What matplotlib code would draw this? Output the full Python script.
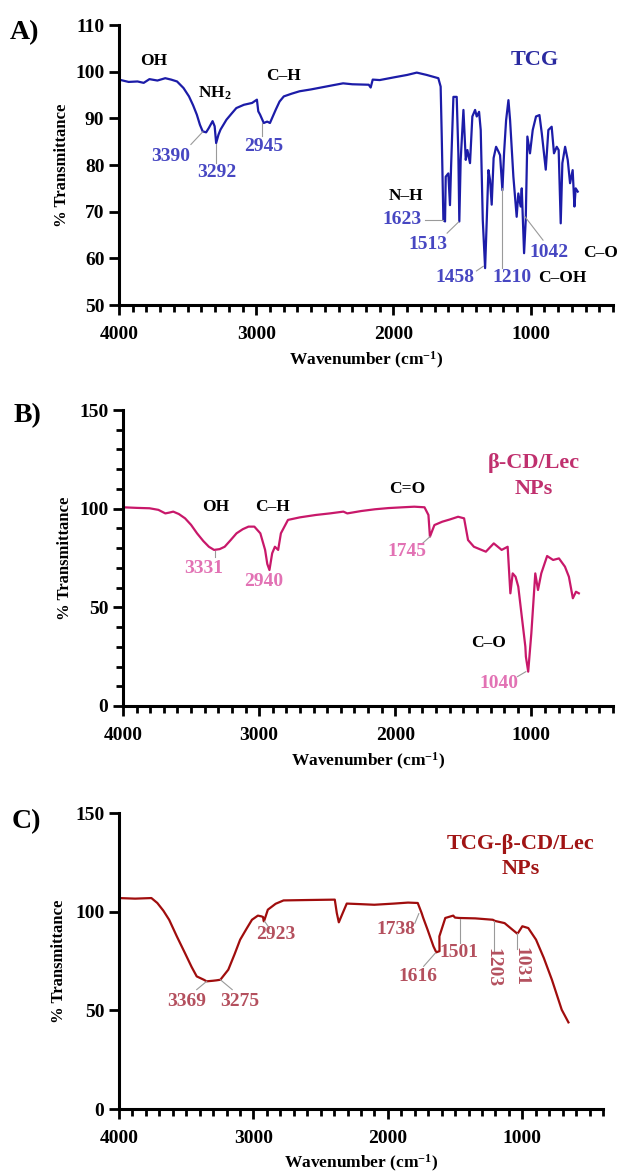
import matplotlib
matplotlib.use("Agg")
import matplotlib.pyplot as plt
from matplotlib.ticker import MultipleLocator

plt.rcParams['font.family'] = ['Liberation Serif', 'DejaVu Serif']
plt.rcParams['font.weight'] = 'bold'
plt.rcParams['axes.labelweight'] = 'bold'
plt.rcParams['mathtext.fontset'] = 'custom'
plt.rcParams['mathtext.rm'] = 'Liberation Serif:bold'
plt.rcParams['mathtext.bf'] = 'Liberation Serif:bold'
plt.rcParams['mathtext.default'] = 'rm'

# --- FTIR spectra (wavenumber in cm-1, % transmittance) ---
wn_tcg = [4000, 3930, 3865, 3820, 3778, 3720, 3663, 3620, 3577, 3530, 3490, 3460, 3433,
          3410, 3390, 3365, 3346, 3318, 3303, 3292, 3275, 3260, 3217, 3180, 3145, 3090,
          3030, 2995, 2985, 2972, 2945, 2920, 2900, 2857, 2830, 2799, 2740, 2684, 2600,
          2511, 2440, 2367, 2300, 2180, 2166, 2151, 2100, 1993, 1900, 1830, 1758, 1673,
          1656, 1648, 1636, 1624, 1619, 1600, 1588, 1580, 1563, 1539, 1527, 1520, 1510,
          1490, 1473, 1461, 1442, 1425, 1405, 1393, 1376, 1364, 1349, 1332, 1320, 1308,
          1296, 1284, 1270, 1252, 1235, 1223, 1206, 1194, 1179, 1162, 1150, 1126, 1102,
          1090, 1073, 1065, 1048, 1036, 1024, 1005, 985, 961, 936, 919, 890, 871, 847,
          830, 810, 796, 781, 769, 749, 730, 713, 694, 681, 672, 657]
t_tcg = [98.3, 97.8, 97.9, 97.6, 98.4, 98.1, 98.6, 98.3, 97.9, 96.5, 94.7, 92.8, 90.8,
         88.6, 87.2, 87.0, 87.9, 89.4, 88.3, 84.7, 86.5, 87.6, 89.7, 91.0, 92.2, 92.9,
         93.3, 94.0, 91.5, 90.8, 89.0, 89.3, 89.0, 91.9, 93.6, 94.7, 95.3, 95.8, 96.2,
         96.7, 97.1, 97.5, 97.3, 97.2, 96.6, 98.3, 98.2, 98.8, 99.3, 99.8, 99.3, 98.6,
         96.8, 86.1, 68.2, 67.9, 77.5, 78.2, 71.4, 79.6, 94.6, 94.6, 82.5, 67.9, 81.1,
         91.8, 81.1, 83.2, 80.4, 90.4, 91.8, 90.4, 91.4, 87.5, 68.2, 57.9, 68.2, 78.9,
         76.8, 71.5, 81.5, 83.9, 82.9, 82.1, 74.6, 82.5, 89.6, 93.9, 89.6, 77.5, 68.9,
         73.9, 71.1, 75.0, 61.1, 68.2, 86.1, 82.5, 87.5, 90.4, 90.7, 86.8, 79.0, 87.5, 88.2,
         82.5, 83.9, 83.2, 67.5, 80.4, 83.9, 81.1, 76.1, 78.9, 71.1, 75.0, 74.3]

wn_cdlec = [4000, 3900, 3805, 3740, 3689, 3660, 3631, 3590, 3544, 3500, 3456, 3410, 3369,
            3331, 3290, 3253, 3210, 3166, 3120, 3078, 3035, 2991, 2956, 2940, 2924, 2904,
            2884, 2860, 2840, 2788, 2700, 2584, 2480, 2381, 2352, 2250, 2148, 2050, 1945,
            1860, 1785, 1756, 1745, 1712, 1654, 1600, 1538, 1494, 1465, 1422, 1380, 1334,
            1276, 1218, 1174, 1154, 1137, 1116, 1096, 1073, 1044, 1040, 1023, 1000, 971,
            951, 927, 884, 840, 797, 753, 724, 695, 672, 651]
t_cdlec = [100.7, 100.4, 100.2, 99.4, 97.6, 98.0, 98.5, 97.3, 95.1, 91.8, 87.5, 83.6, 80.7,
           79.1, 79.5, 80.7, 84.0, 87.5, 89.6, 90.9, 90.9, 87.5, 79.1, 72.0, 68.9, 77.4,
           80.7, 79.1, 87.5, 94.3, 95.6, 96.8, 97.6, 98.5, 97.6, 98.8, 99.7, 100.3, 100.7,
           101.0, 100.7, 96.8, 85.8, 91.7, 93.4, 94.5, 95.9, 95.1, 84.1, 80.7, 79.5, 78.2,
           82.4, 79.1, 80.7, 57.1, 67.2, 65.5, 60.5, 47.0, 30.1, 25.0, 17.4, 36.8, 67.2,
           58.8, 67.2, 76.0, 74.0, 74.8, 70.6, 65.5, 54.6, 57.9, 57.1]

wn_tcg_np = [4000, 3880, 3759, 3715, 3670, 3627, 3570, 3510, 3460, 3422, 3369, 3348, 3300,
             3275, 3246, 3187, 3140, 3099, 3050, 3011, 2967, 2940, 2929, 2923, 2917, 2893,
             2835, 2776, 2600, 2395, 2380, 2365, 2336, 2306, 2200, 2101, 1954, 1850, 1778,
             1749, 1738, 1705, 1661, 1640, 1616, 1617, 1573, 1514, 1501, 1470, 1350, 1220,
             1203, 1132, 1074, 1038, 1031, 1000, 956, 898, 840, 780, 707, 657]
t_tcg_np = [106.9, 106.6, 106.9, 104.4, 100.5, 95.9, 87.5, 79.1, 72.0, 67.2, 65.5, 64.7, 65.0,
            65.2, 65.5, 70.6, 78.5, 85.8, 91.5, 95.9, 98.0, 97.6, 97.3, 95.1, 96.0, 101.0,
            104.0, 105.7, 105.9, 106.1, 99.3, 94.6, 99.3, 104.1, 103.8, 103.5, 104.1, 104.6,
            104.4, 99.3, 97.0, 90.9, 82.4, 79.4, 80.0, 87.5, 96.8, 98.0, 97.0, 96.8, 96.6,
            95.9, 95.3, 94.2, 90.9, 88.9, 89.3, 92.6, 91.7, 85.8, 76.5, 65.5, 50.3, 43.9]

# --- annotation text ---
groups_a = ['OH', 'NH$_2$', 'C\u2013H', 'N\u2013H', 'C\u2013OH', 'C\u2013O']
peaks_a = ['3390', '3292', '2945', '1623', '1513', '1458', '1210', '1042']
groups_b = ['OH', 'C\u2013H', 'C=O', 'C\u2013O']
peaks_b = ['3331', '2940', '1745', '1040']
peaks_c = ['3369', '3275', '2923', '1738', '1616', '1501', '1203', '1031']

blue, blue_lbl = '#1c1ca8', '#4747c2'
pink, pink_lbl = '#c8186a', '#e272b4'
red, red_lbl = '#a00d0d', '#b4505e'
grey = '#9a9a9a'

fig = plt.figure(figsize=(6.18, 11.74), dpi=100)
W, H = 618, 1174


def make_axes(left, right, top, bottom):
    return fig.add_axes([left / W, 1 - bottom / H, (right - left) / W, (bottom - top) / H])


def style(ax, ylim, ystep, yminor=None, xpad=8):
    ax.set_xlim(4000, 400)
    ax.set_ylim(*ylim)
    ax.xaxis.set_major_locator(MultipleLocator(1000))
    ax.xaxis.set_minor_locator(MultipleLocator(100))
    ax.yaxis.set_major_locator(MultipleLocator(ystep))
    if yminor:
        ax.yaxis.set_minor_locator(MultipleLocator(yminor))
    else:
        ax.yaxis.set_minor_locator(plt.NullLocator())
    for s in ['top', 'right']:
        ax.spines[s].set_visible(False)
    for s in ['left', 'bottom']:
        ax.spines[s].set_linewidth(2.2)
    ax.tick_params(which='major', length=7, width=2, labelsize=14, pad=3.5)
    ax.tick_params(axis='x', which='major', pad=8)
    ax.tick_params(which='minor', length=4.8, width=2)
    ax.set_xlabel('Wavenumber (cm$^{-1}$)', fontsize=12.5, labelpad=xpad)
    ax.set_ylabel('% Transmittance', fontsize=12)


def pointer(ax, x0, y0, x1, y1):
    ax.plot([x0, x1], [y0, y1], color=grey, lw=0.8, clip_on=False)


# A) TCG
ax = make_axes(119, 613, 25, 305)
ax.plot(wn_tcg, t_tcg, color=blue, lw=1.6)
style(ax, (50, 110), 10, xpad=5)
ax.yaxis.set_label_coords(-0.100, 0.5)
fig.text(10 / W, 1 - 33 / H, 'A)', fontsize=20, va='center')
ax.text(970, 102.5, 'TCG', color='#2a2aa0', fontsize=16, ha='center', va='center')
for g, (x, y, ha) in zip(groups_a, [(3750, 102.2, 'center'), (3303, 95.4, 'center'),
                                    (2800, 99.0, 'center'), (1907, 73.3, 'center'),
                                    (946, 55.8, 'left'), (620, 61.2, 'left')]):
    ax.text(x, y, g, fontsize=12.5, ha=ha, va='center', clip_on=False)
for p, (x, y) in zip(peaks_a, [(3620, 81.9), (3289, 78.3), (2949, 84.0), (1935, 68.4),
                               (1748, 62.9), (1551, 55.8), (1136, 55.8), (870, 61.2)]):
    ax.text(x, y, p, color=blue_lbl, fontsize=14, ha='center', va='center')
pointer(ax, 3476, 84.4, 3390, 87.1)
pointer(ax, 3295, 80.5, 3295, 84.4)
pointer(ax, 2955, 86.3, 2955, 89.0)
pointer(ax, 1770, 68.2, 1638, 68.2)
pointer(ax, 1609, 65.4, 1525, 67.8)
pointer(ax, 1395, 57.3, 1345, 58.3)
pointer(ax, 1207, 57.9, 1207, 75.0)
pointer(ax, 910, 63.9, 1041, 68.9)

# B) beta-CD/Lec NPs
ax = make_axes(123, 613, 410, 706)
ax.plot(wn_cdlec, t_cdlec, color=pink, lw=1.6)
style(ax, (0, 150), 50, 10, xpad=5)
ax.yaxis.set_label_coords(-0.102, 0.5)
fig.text(14 / W, 1 - 416 / H, 'B)', fontsize=20, va='center')
ax.text(980, 116.5, '\u03b2-CD/Lec\nNPs', color='#c0306e', fontsize=16, ha='center',
        va='center', linespacing=1.35)
for g, (x, y) in zip(groups_b, [(3317, 101.0), (2904, 101.0), (1910, 109.8), (1314, 32.1)]):
    ax.text(x, y, g, fontsize=12.5, ha='center', va='center')
for p, (x, y) in zip(peaks_b, [(3404, 69.8), (2968, 63.0), (1916, 78.2), (1238, 11.5)]):
    ax.text(x, y, p, color=pink_lbl, fontsize=14, ha='center', va='center')
pointer(ax, 3326, 75.7, 3326, 78.6)
pointer(ax, 1800, 82.4, 1745, 85.8)
pointer(ax, 1102, 14.9, 1040, 17.4)

# C) TCG-beta-CD/Lec NPs
ax = make_axes(119, 603, 813, 1109)
ax.plot(wn_tcg_np, t_tcg_np, color=red, lw=1.6)
style(ax, (0, 150), 50, xpad=4)
ax.yaxis.set_label_coords(-0.107, 0.5)
fig.text(12 / W, 1 - 822 / H, 'C)', fontsize=20, va='center')
ax.text(1015, 128, 'TCG-\u03b2-CD/Lec\nNPs', color='#a01414', fontsize=16, ha='center',
        va='center', linespacing=1.35)
for p, (x, y, rot) in zip(peaks_c, [(3495, 54.6, 0), (3099, 54.6, 0), (2835, 88.3, 0),
                                    (1939, 90.9, 0), (1778, 67.2, 0), (1470, 79.4, 0),
                                    (1220, 71.5, 270), (1010, 72.3, 270)]):
    ax.text(x, y, p, color=red_lbl, fontsize=14, ha='center', va='center', rotation=rot)
pointer(ax, 3422, 60.5, 3348, 64.7)
pointer(ax, 3158, 60.5, 3246, 65.5)
pointer(ax, 2880, 91.5, 2917, 95.1)
pointer(ax, 1800, 94.0, 1770, 99.0)
pointer(ax, 1734, 72.3, 1646, 79.1)
pointer(ax, 1461, 84.0, 1461, 96.5)
pointer(ax, 1212, 80.0, 1212, 95.3)
pointer(ax, 1040, 81.0, 1040, 89.0)

fig.savefig('out.png', dpi=100)
